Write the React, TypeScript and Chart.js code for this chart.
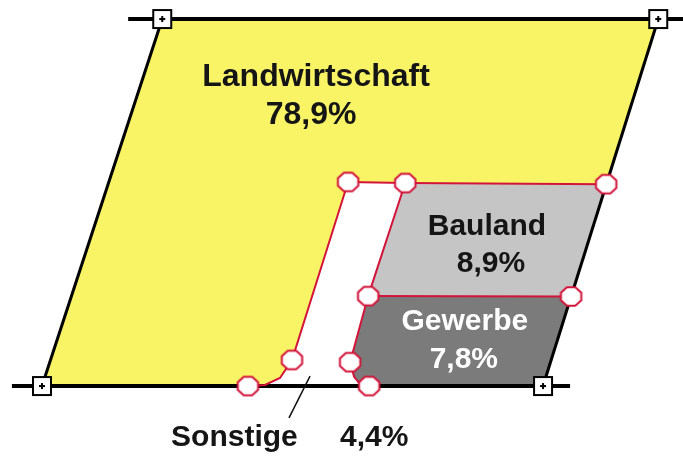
import React, { useEffect, useRef } from "react";
import { Chart, registerables } from "chart.js";

Chart.register(...registerables);

// ---- Data -------------------------------------------------------------
const categories = ["Landwirtschaft", "Bauland", "Gewerbe", "Sonstige"];
const shares = [78.9, 8.9, 7.8, 4.4];

// Diagram units: parallelogram base 0–100 (x), height 0–100 (y)
const frameCorners = [
  { x: 24, y: 100 },
  { x: 123, y: 100 },
  { x: 0, y: 0 },
  { x: 100, y: 0 },
];
const leftEdge = [
  { x: 24, y: 100 },
  { x: 0, y: 0 },
];
const rightEdge = [
  { x: 123, y: 100 },
  { x: 100, y: 0 },
];
const topLine = [
  { x: 17.2, y: 100 },
  { x: 130, y: 100 },
];
const bottomLine = [
  { x: -6, y: 0 },
  { x: 105.4, y: 0 },
];

const landwirtschaftShape = [
  { x: 24, y: 100 },
  { x: 123, y: 100 },
  { x: 112.6, y: 55.0 },
  { x: 72.5, y: 55.3 },
  { x: 61.1, y: 55.6 },
  { x: 49.9, y: 7.1 },
  { x: 47.5, y: 2.2 },
  { x: 44.5, y: 0.3 },
  { x: 41.1, y: 0 },
  { x: 0, y: 0 },
];
const baulandShape = [
  { x: 72.5, y: 55.3 },
  { x: 112.6, y: 55.0 },
  { x: 105.6, y: 24.4 },
  { x: 65.1, y: 24.5 },
];
const gewerbeShape = [
  { x: 65.1, y: 24.5 },
  { x: 105.6, y: 24.4 },
  { x: 100, y: 0 },
  { x: 65.3, y: 0 },
  { x: 63.5, y: 0.5 },
  { x: 62.3, y: 2.5 },
  { x: 61.5, y: 6.5 },
];

const redTop = [
  { x: 61.1, y: 55.6 },
  { x: 72.5, y: 55.3 },
  { x: 112.6, y: 55.0 },
];
const redMiddle = [
  { x: 65.1, y: 24.5 },
  { x: 105.6, y: 24.4 },
];
const redLeft = [
  { x: 61.1, y: 55.6 },
  { x: 49.9, y: 7.1 },
  { x: 47.5, y: 2.2 },
  { x: 44.5, y: 0.3 },
  { x: 41.1, y: 0 },
];
const redRight = [
  { x: 72.5, y: 55.3 },
  { x: 65.1, y: 24.5 },
  { x: 61.5, y: 6.5 },
  { x: 62.3, y: 2.5 },
  { x: 63.5, y: 0.5 },
  { x: 65.3, y: 0 },
];
const handles = [
  { x: 61.1, y: 55.6 },
  { x: 72.5, y: 55.3 },
  { x: 112.6, y: 55.0 },
  { x: 65.1, y: 24.5 },
  { x: 105.6, y: 24.4 },
  { x: 49.9, y: 7.1 },
  { x: 61.5, y: 6.5 },
  { x: 41.1, y: 0 },
  { x: 65.3, y: 0 },
];
const leaderLine = [
  { x: 53.5, y: 2.7 },
  { x: 49.3, y: -8.7 },
];

// Label anchors (diagram units)
const labelLayout = [
  { name: { x: 54.7, y: 81.7 }, value: { x: 53.7, y: 71.4 }, size: 32, color: "#151515" },
  { name: { x: 88.8, y: 41.1 }, value: { x: 89.6, y: 31.1 }, size: 30, color: "#151515" },
  { name: { x: 84.4, y: 15.3 }, value: { x: 84.2, y: 4.9 }, size: 30, color: "#ffffff" },
  { name: { x: 38.4, y: -16.3 }, value: { x: 66.3, y: -16.3 }, size: 30, color: "#151515" },
];

const YELLOW = "#f9f466";
const LIGHT_GRAY = "#c5c5c5";
const DARK_GRAY = "#7b7b7b";
const RED = "#d2143a";

function makeOctagon(): HTMLCanvasElement {
  const c = document.createElement("canvas");
  c.width = 25;
  c.height = 23;
  const ctx = c.getContext("2d")!;
  const cx = 12.5, cy = 11.5, rx = 11, ry = 10;
  ctx.beginPath();
  for (let i = 0; i < 8; i++) {
    const a = (Math.PI / 8) + (i * Math.PI) / 4;
    const px = cx + rx * Math.cos(a);
    const py = cy + ry * Math.sin(a);
    if (i === 0) ctx.moveTo(px, py);
    else ctx.lineTo(px, py);
  }
  ctx.closePath();
  ctx.fillStyle = "#ffffff";
  ctx.fill();
  ctx.lineWidth = 2;
  ctx.strokeStyle = RED;
  ctx.stroke();
  return c;
}

function makeSquare(): HTMLCanvasElement {
  const c = document.createElement("canvas");
  c.width = 22;
  c.height = 22;
  const ctx = c.getContext("2d")!;
  ctx.fillStyle = "#ffffff";
  ctx.fillRect(1, 1, 20, 20);
  ctx.lineWidth = 2;
  ctx.strokeStyle = "#000000";
  ctx.strokeRect(2, 2, 18, 18);
  ctx.fillStyle = "#000000";
  ctx.fillRect(10, 8, 2, 6);
  ctx.fillRect(8, 10, 6, 2);
  return c;
}

const fmt = (v: number) => v.toFixed(1).replace(".", ",") + "%";

const labelPlugin = {
  id: "areaLabels",
  afterDatasetsDraw(chart: any) {
    const ctx = chart.ctx;
    const xs = chart.scales.x;
    const ys = chart.scales.y;
    ctx.save();
    ctx.textAlign = "center";
    ctx.textBaseline = "alphabetic";
    categories.forEach((name, i) => {
      const l = labelLayout[i];
      ctx.font = `bold ${l.size}px "Liberation Sans", Arial, sans-serif`;
      ctx.fillStyle = l.color;
      ctx.fillText(name, xs.getPixelForValue(l.name.x), ys.getPixelForValue(l.name.y));
      ctx.fillText(fmt(shares[i]), xs.getPixelForValue(l.value.x), ys.getPixelForValue(l.value.y));
    });
    ctx.restore();
  },
};

export default function App() {
  const ref = useRef<HTMLCanvasElement | null>(null);

  useEffect(() => {
    if (!ref.current) return;
    const octagon = makeOctagon();
    const square = makeSquare();

    const line = (data: any[], color: string, width: number, order: number) => ({
      data,
      showLine: true,
      borderColor: color,
      borderWidth: width,
      pointRadius: 0,
      fill: false,
      tension: 0,
      order,
    });
    const area = (data: any[], color: string, order: number) => ({
      data,
      showLine: true,
      borderColor: "rgba(0,0,0,0)",
      borderWidth: 0,
      backgroundColor: color,
      pointRadius: 0,
      fill: "shape",
      tension: 0,
      order,
    });

    const chart = new Chart(ref.current, {
      type: "scatter",
      data: {
        datasets: [
          area(landwirtschaftShape, YELLOW, 20),
          area(baulandShape, LIGHT_GRAY, 19),
          area(gewerbeShape, DARK_GRAY, 18),
          line(leftEdge, "#000000", 3, 10),
          line(rightEdge, "#000000", 3, 10),
          line(topLine, "#000000", 4, 9),
          line(bottomLine, "#000000", 4, 9),
          line(redTop, RED, 2, 6),
          line(redMiddle, RED, 2, 6),
          line(redLeft, RED, 2, 6),
          line(redRight, RED, 2, 6),
          line(leaderLine, "#111111", 1.5, 6),
          {
            data: handles,
            showLine: false,
            pointStyle: octagon,
            pointRadius: 11,
            order: 2,
          },
          {
            data: frameCorners,
            showLine: false,
            pointStyle: square,
            pointRadius: 11,
            order: 1,
          },
        ] as any,
      },
      options: {
        animation: false,
        responsive: false,
        events: [],
        layout: { padding: 0, autoPadding: false },
        plugins: {
          legend: { display: false },
          tooltip: { enabled: false },
        },
        scales: {
          x: { type: "linear", min: -8.38, max: 127.94, display: false },
          y: { type: "linear", min: -19.89, max: 105.18, display: false },
        },
      },
      plugins: [labelPlugin],
    });
    return () => chart.destroy();
  }, []);

  return (
    <div style={{ position: "absolute", left: 0, top: 0, width: 683, height: 459, background: "#ffffff" }}>
      <canvas ref={ref} width={683} height={459} />
    </div>
  );
}
